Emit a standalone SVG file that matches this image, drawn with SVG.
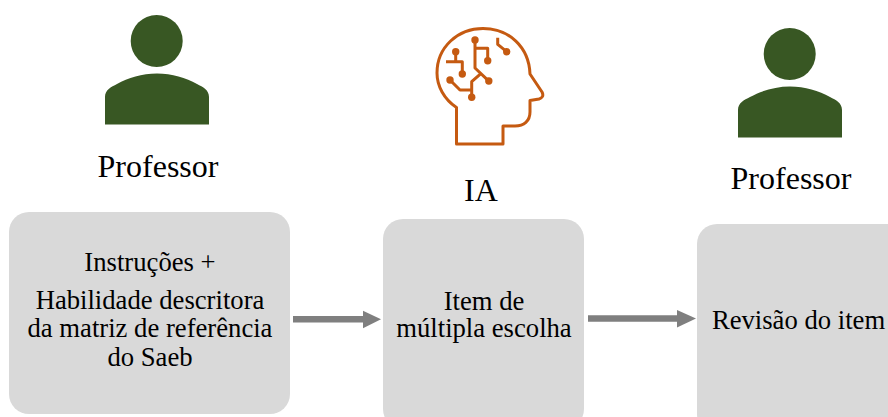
<svg xmlns="http://www.w3.org/2000/svg" width="888" height="417" viewBox="0 0 888 417">
<style>
text{font-family:"Liberation Serif","Times New Roman",serif;fill:#000;text-anchor:middle}
.t{font-size:26.67px}
.h{font-size:32px}
.box{fill:#d9d9d9}
.person{fill:#385723}
.conn{stroke:#7f7f7f;stroke-width:6.5;fill:none}
.head{fill:#7f7f7f}
.ia{fill:none;stroke:#c55a11;stroke-width:3;stroke-linejoin:round;stroke-linecap:butt}
.dot{fill:#c55a11}
</style>
<defs>
<g id="p"><circle cx="156.7" cy="41" r="26"/><path d="M105 124.500V97C105 90 111 87 117 84C128 78 142 73.500 157 73.500C172 73.500 186 78 197 84C203 87 209 90 209 97V124.500Z"/></g>
</defs>
<rect width="888" height="417" fill="#fff"/>
<g id="professor1"><use href="#p" class="person"/><text class="h" x="158" y="177">Professor</text></g>
<g id="ia">
<path class="ia" d="M456.500 144V107.500C444 99 437 86 437 73C437 47 458 28.500 483 28.500C509 28.500 529 47 530 74L542 92C544 96 542 98 539 99L530 100.500V112C530 121 524 126 515 126H503V144Z"/>
<path class="ia" d="M475 40V68L488.300 80.700M475 48.300H487.700V60.700M480 74.300L471.700 81.700V97.300M455.700 51.700V61.700M446 61.700H462.300V74M450 80L460 90H471.700M497.700 37.700V44.300L506.700 51.700"/>
<g class="dot"><circle cx="475" cy="40" r="3.700"/><circle cx="487.700" cy="60.700" r="3.700"/><circle cx="455.700" cy="51.700" r="3.700"/><circle cx="462.300" cy="74" r="3.700"/><circle cx="450" cy="80" r="3.700"/><circle cx="488.800" cy="81" r="3.700"/><circle cx="471.700" cy="97.300" r="3.700"/><circle cx="506.700" cy="51.700" r="3.700"/></g>
<text class="h" x="481" y="201">IA</text></g>
<g id="professor2"><use href="#p" class="person" x="633" y="13"/><text class="h" x="791" y="189">Professor</text></g>
<g id="box1"><rect class="box" x="9" y="212" width="281" height="202" rx="20"/><text class="t" x="150" y="271">Instruções +</text><text class="t" x="150" y="309">Habilidade descritora</text><text class="t" x="150" y="337">da matriz de referência</text><text class="t" x="150" y="366">do Saeb</text></g>
<g id="box2"><rect class="box" x="383" y="219" width="201" height="210" rx="20"/><text class="t" x="484" y="310">Item de</text><text class="t" x="484" y="337">múltipla escolha</text></g>
<g id="box3"><rect class="box" x="697" y="224" width="220" height="210" rx="20"/><text class="t" x="798.500" y="329">Revisão do item</text></g>
<g id="connectors">
<path class="conn" d="M293 319.300H364"/><path class="head" d="M363 310.700L381 319.300L363 328.300Z"/>
<path class="conn" d="M588 318.500H678"/><path class="head" d="M677 310L696 318.500L677 327.500Z"/>
</g>
</svg>
